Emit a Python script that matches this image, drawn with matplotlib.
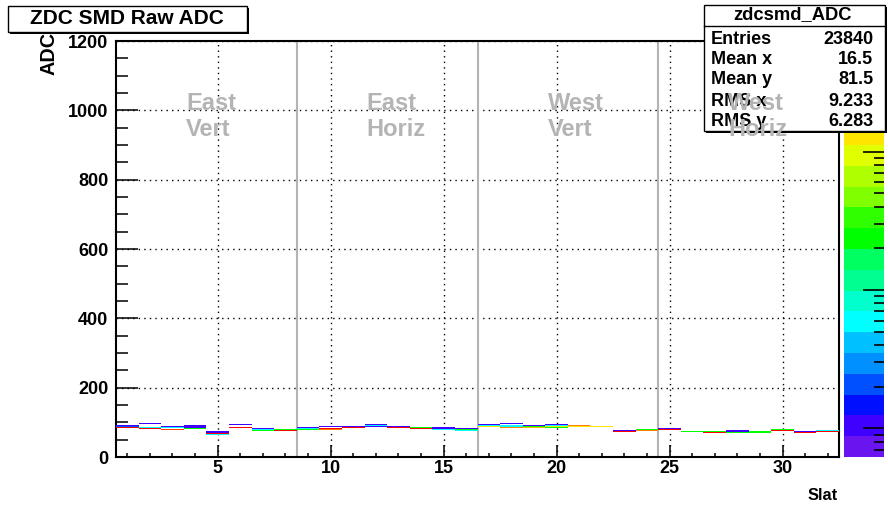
import numpy as np
import matplotlib
matplotlib.use("Agg")
import matplotlib.pyplot as plt
from matplotlib.colors import ListedColormap, BoundaryNorm
from matplotlib.patches import Rectangle
from matplotlib.lines import Line2D
from matplotlib.ticker import MultipleLocator, LogLocator

plt.rcParams['font.family'] = ['Liberation Sans', 'DejaVu Sans']
plt.rcParams['font.weight'] = 'bold'

# filled cells of the 2D histogram: slat, ADC value, counts
cell_slat = [1, 1, 1, 2, 2, 2, 3, 3, 3, 4, 4, 4, 4,
             5, 5, 5, 5, 6, 6, 7, 7, 7, 8, 8, 9, 9, 9,
             10, 10, 10, 11, 11, 12, 12, 12, 13, 13, 14, 14,
             15, 15, 15, 16, 16, 16, 17, 17, 17, 18, 18, 18, 18,
             19, 19, 19, 20, 20, 20, 20, 21, 21, 22, 23, 23, 24, 24,
             25, 25, 26, 27, 27, 28, 28, 28, 29, 29, 30, 30, 31, 31, 32, 32]
cell_adc = [91, 88, 85, 97, 85, 82, 87, 84, 79, 92, 89, 86, 83,
            74, 71, 68, 65, 95, 86, 83, 80, 77, 80, 77, 84, 81, 78,
            89, 81, 78, 89, 86, 95, 92, 89, 87, 84, 84, 81,
            84, 81, 78, 81, 78, 75, 95, 92, 89, 98, 92, 89, 86,
            92, 89, 86, 95, 92, 89, 86, 91, 88, 87, 75, 72, 78, 75,
            83, 80, 74, 74, 71, 77, 74, 71, 72, 69, 80, 77, 74, 71, 77, 74]
cell_count = [1, 2, 550, 1, 6, 500, 1, 6, 350, 1, 1, 1, 25,
              1, 1, 550, 6, 1, 550, 1, 6, 25, 25, 550, 1, 6, 25,
              1, 550, 300, 1, 550, 1, 6, 1, 1, 550, 25, 550,
              1, 1, 6, 1, 25, 6, 1, 6, 150, 1, 6, 6, 300,
              1, 25, 200, 1, 6, 150, 25, 300, 150, 120, 1, 550, 25, 300,
              1, 550, 25, 25, 550, 1, 1, 25, 25, 25, 25, 550, 1, 550, 6, 550]

separators = [8.5, 16.5, 24.5]
region_names = [("East", "Vert"), ("East", "Horiz"), ("West", "Vert"), ("West", "Horiz")]
region_x = [3.6, 11.6, 19.6, 27.6]

stat_names = ["Entries", "Mean x", "Mean y", "RMS x", "RMS y"]
stat_values = ["23840", "16.5", "81.5", "9.233", "6.283"]

z_min, z_max = 0.62, 630
palette = ['#6a14f0', '#4000ff', '#0010ff', '#0050ff', '#0090ff', '#00c0ff',
           '#00ffff', '#00ffcc', '#00ff90', '#00ff60', '#00ff00', '#30ff00',
           '#80ff00', '#b0ff00', '#e0ff00', '#ffe600', '#ffb000', '#ff8000',
           '#ff4000', '#ff0000']

W, H = 888, 509
fig = plt.figure(figsize=(W / 100, H / 100), dpi=100)


def fx(x):
    return x / W


def fy(y):
    return 1 - y / H


ax = fig.add_axes([fx(116), fy(457), fx(839) - fx(116), fy(41) - fy(457)])

x_edges = np.arange(0.5, 33.5, 1.0)
y_edges = np.arange(0, 1203, 3)
hist, _, _ = np.histogram2d(cell_slat, cell_adc, bins=[x_edges, y_edges], weights=cell_count)
hist = np.ma.masked_equal(hist, 0)
levels = np.logspace(np.log10(z_min), np.log10(z_max), len(palette) + 1)
cmap = ListedColormap(palette)
norm = BoundaryNorm(levels, cmap.N)
ax.pcolormesh(x_edges, y_edges, hist.T, cmap=cmap, norm=norm,
              antialiased=False, linewidth=0, zorder=3)

for s in separators:
    ax.axvline(s, color='#b4b4b4', lw=1.5, zorder=2)

ax.set_xlim(0.5, 32.5)
ax.set_ylim(0, 1200)
ax.xaxis.set_major_locator(MultipleLocator(5))
ax.xaxis.set_minor_locator(MultipleLocator(1))
ax.yaxis.set_major_locator(MultipleLocator(200))
ax.yaxis.set_minor_locator(MultipleLocator(50))
ax.grid(True, which='major', color='black', linestyle=(0, (1, 3)), lw=1)
ax.tick_params(which='both', direction='in', width=1.1, labelsize=13)
ax.tick_params(axis='x', which='major', length=9, pad=2.5)
ax.tick_params(axis='x', which='minor', length=3.1)
ax.tick_params(axis='y', which='major', length=16, pad=5.5)
ax.tick_params(axis='y', which='minor', length=8.4)
for sp in ax.spines.values():
    sp.set_linewidth(1.5)

# palette
cax = fig.add_axes([fx(844), fy(457), fx(884) - fx(844), fy(41) - fy(457)])
cax.set_yscale('log')
cax.set_ylim(levels[0], levels[-1])
cax.set_xlim(0, 1)
for i, c in enumerate(palette):
    cax.axhspan(levels[i], levels[i + 1], color=c, lw=0)
cax.yaxis.tick_right()
cax.yaxis.set_major_locator(LogLocator(base=10))
cax.yaxis.set_minor_locator(LogLocator(base=10, subs=range(2, 10)))
cax.tick_params(which='both', direction='in', labelright=False, labelleft=False,
                bottom=False, labelbottom=False, left=False, width=1.2)
cax.tick_params(which='major', length=15)
cax.tick_params(which='minor', length=7.5)
for sp in cax.spines.values():
    sp.set_visible(False)

# axis titles
fig.text(fx(49), fy(32), "ADC", rotation=90, ha='center', va='top', fontsize=14.3)
fig.text(fx(838), fy(496), "Slat", ha='right', va='center', fontsize=11.8)

# title box
fig.add_artist(Rectangle((fx(10), fy(34)), fx(247) - fx(8), fy(6) - fy(32),
                         transform=fig.transFigure, facecolor='black', lw=0, zorder=9))
fig.add_artist(Rectangle((fx(8), fy(32)), fx(247) - fx(8), fy(6) - fy(32),
                         transform=fig.transFigure, facecolor='white', edgecolor='black',
                         lw=1, zorder=10))
fig.text(fx(127), fy(19), "ZDC SMD Raw ADC", ha='center', va='center',
         fontsize=15, zorder=11)

# stats box
fig.add_artist(Rectangle((fx(706), fy(133)), fx(885) - fx(704), fy(5) - fy(131),
                         transform=fig.transFigure, facecolor='black', lw=0, zorder=9))
fig.add_artist(Rectangle((fx(704), fy(131)), fx(885) - fx(704), fy(5) - fy(131),
                         transform=fig.transFigure, facecolor='white', edgecolor='black',
                         lw=1, zorder=10))
fig.add_artist(Line2D([fx(704), fx(885)], [fy(26), fy(26)], transform=fig.transFigure,
                      color='black', lw=1, zorder=11))
fig.text(fx(792), fy(15), "zdcsmd_ADC", ha='center', va='center', fontsize=13.2, zorder=11)
row_y = [39, 60, 80, 101, 121]
for name, val, ry in zip(stat_names, stat_values, row_y):
    fig.text(fx(711), fy(ry), name, ha='left', va='center', fontsize=13, zorder=11)
    fig.text(fx(873), fy(ry), val, ha='right', va='center', fontsize=13, zorder=11)

# region labels, drawn over everything like in the original canvas
for (top, bottom), xl in zip(region_names, region_x):
    x0, _ = fig.transFigure.inverted().transform(ax.transData.transform((xl, 0)))
    fig.text(x0, fy(103), top, color='#b4b4b4', fontsize=17, ha='left', va='center', zorder=12)
    fig.text(x0, fy(129), bottom, color='#b4b4b4', fontsize=17, ha='left', va='center', zorder=12)

fig.savefig("out.png", dpi=100)
